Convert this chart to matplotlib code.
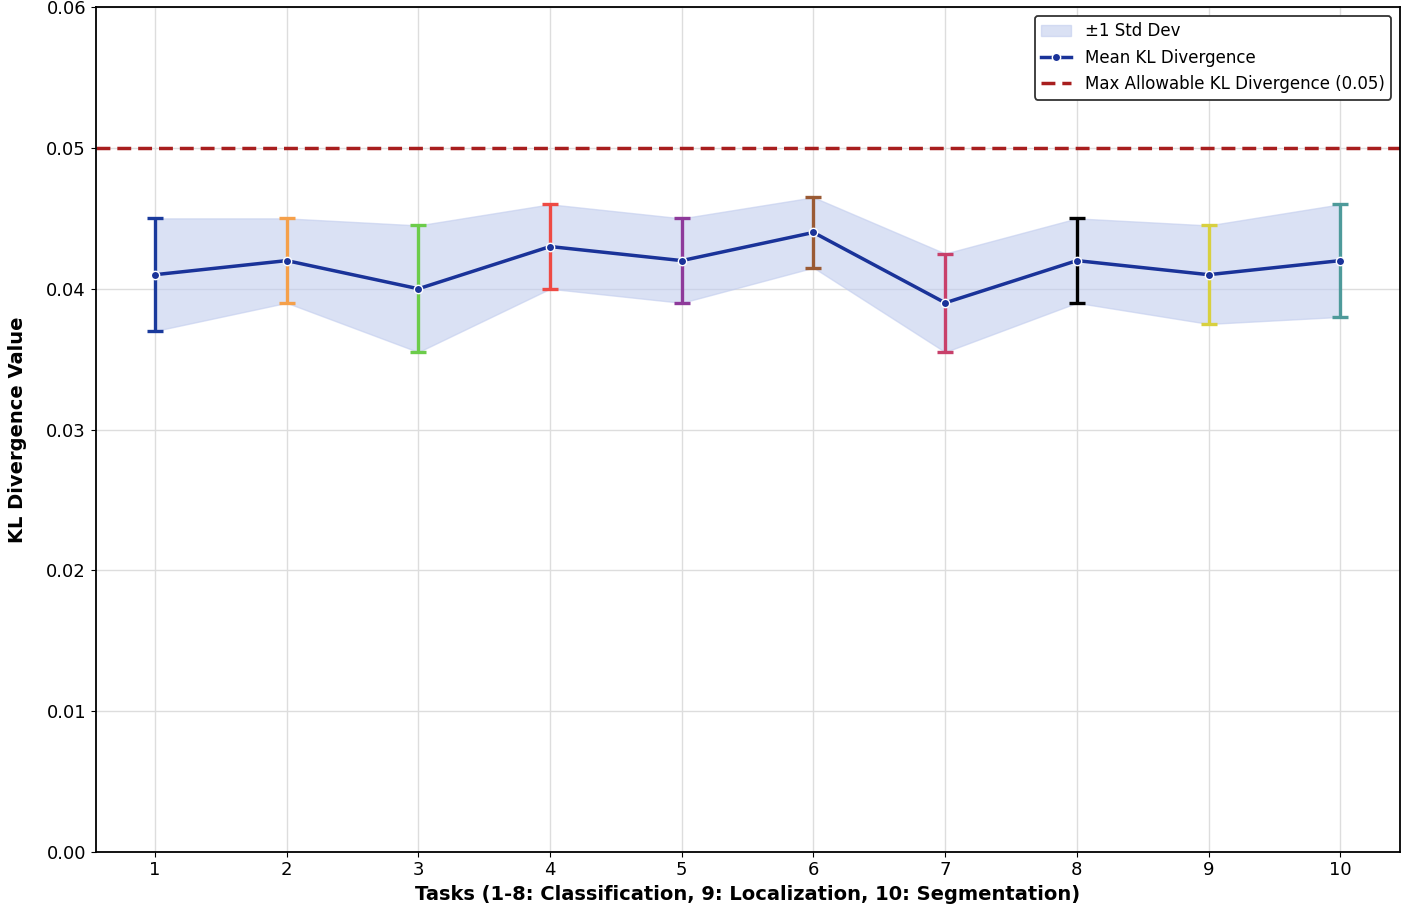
import numpy as np
import matplotlib
matplotlib.use("Agg")
import matplotlib.pyplot as plt

tasks = [1, 2, 3, 4, 5, 6, 7, 8, 9, 10]
mean_kl = [0.041, 0.042, 0.040, 0.043, 0.042, 0.044, 0.039, 0.042, 0.041, 0.042]
std_kl = [0.004, 0.003, 0.0045, 0.003, 0.003, 0.0025, 0.0035, 0.003, 0.0035, 0.004]
max_kl = 0.05
bar_colors = ["#1a3a9c", "#f5a04a", "#6ccc4a", "#ee4a44", "#8e3a9a",
              "#9a5a34", "#c8406a", "#000000", "#d8d040", "#4e9a9a"]

x = np.array(tasks)
m = np.array(mean_kl)
s = np.array(std_kl)

fig = plt.figure(figsize=(14.08, 9.09), dpi=100)
ax = fig.add_axes([0.068, 0.063, 0.926, 0.929])

ax.fill_between(x, m - s, m + s, color="#c2cdee", alpha=0.6, label="±1 Std Dev", zorder=1)
for xi, mi, si, c in zip(x, m, s, bar_colors):
    ax.errorbar(xi, mi, yerr=si, color=c, capsize=6, elinewidth=2.4, capthick=2.4, fmt="none", zorder=3)
ax.plot(x, m, color="#1a3399", linewidth=2.5, marker="o", markersize=6,
        markeredgecolor="white", markeredgewidth=1, label="Mean KL Divergence", zorder=4)
ax.axhline(max_kl, color="#a81e1e", linestyle="--", linewidth=2.5, dashes=(4, 2),
           label="Max Allowable KL Divergence (0.05)", zorder=2)

ax.set_xlim(0.55, 10.45)
ax.set_ylim(0, 0.06)
ax.set_xticks(tasks)
ax.set_yticks([0, 0.01, 0.02, 0.03, 0.04, 0.05, 0.06])
ax.set_yticklabels(["0.00", "0.01", "0.02", "0.03", "0.04", "0.05", "0.06"])
ax.tick_params(labelsize=13)
ax.grid(True, color="#dddddd", linewidth=1)
ax.set_axisbelow(True)
for sp in ax.spines.values():
    sp.set_linewidth(1.3)

ax.set_xlabel("Tasks (1-8: Classification, 9: Localization, 10: Segmentation)",
              fontsize=14, fontweight="bold", labelpad=4)
ax.set_ylabel("KL Divergence Value", fontsize=14, fontweight="bold", labelpad=14)

leg = ax.legend(loc="upper right", fontsize=12, frameon=True, fancybox=True,
                edgecolor="#333333", framealpha=1, handlelength=1.8,
                borderaxespad=0.5)
leg.get_frame().set_linewidth(1.3)

fig.savefig("out.png", dpi=100)
